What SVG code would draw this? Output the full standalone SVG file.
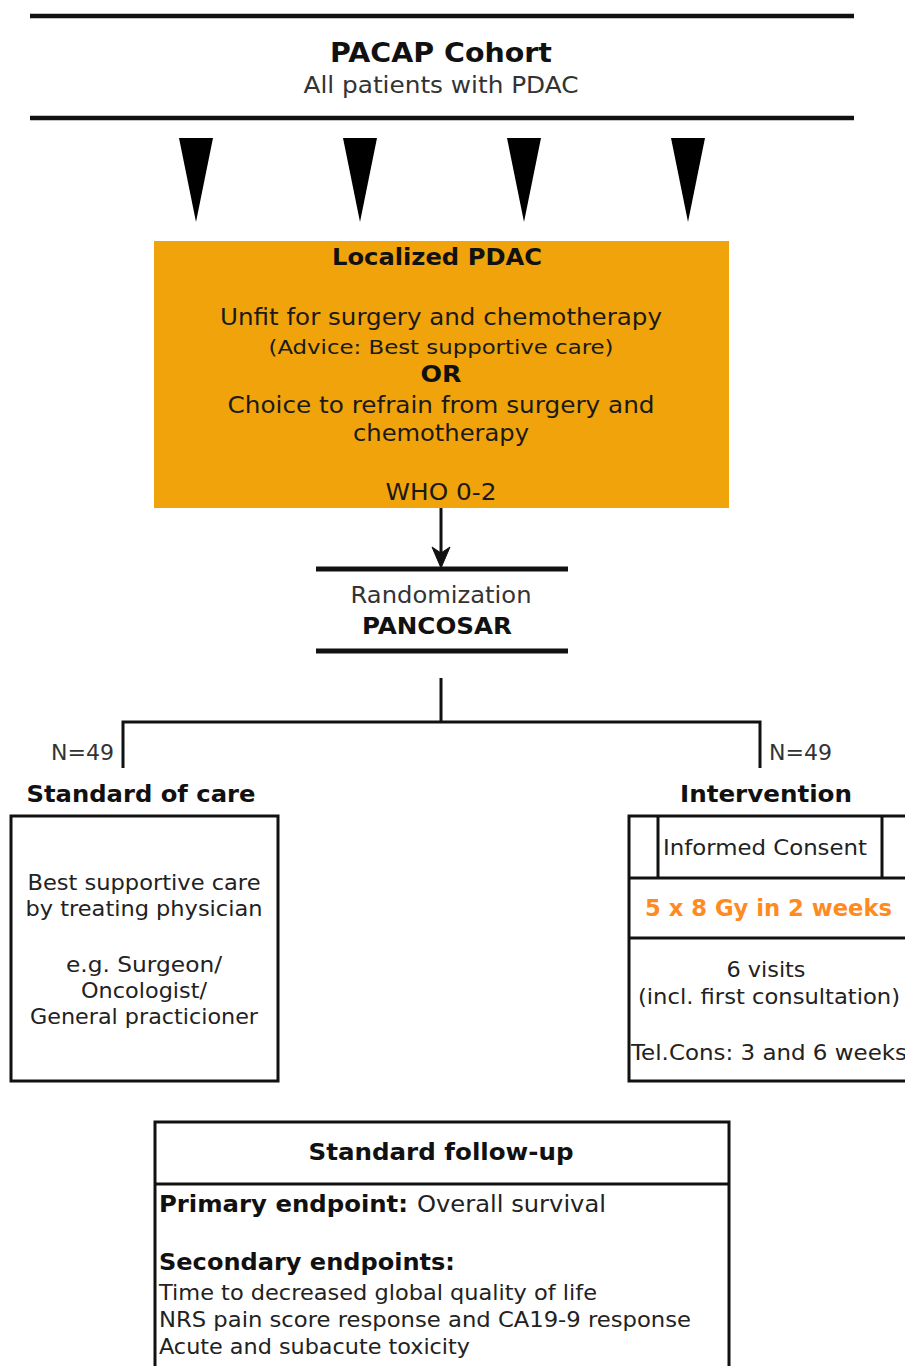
<svg xmlns="http://www.w3.org/2000/svg" width="905" height="1366" viewBox="0 0 905 1366">
<defs>
<style>
text{font-family:"DejaVu Sans","Liberation Sans",sans-serif;fill:#222;}
.b{font-weight:bold;fill:#111;}
.c{text-anchor:middle;}
.box{fill:#fff;stroke:#111;stroke-width:3;}
.ln{stroke:#111;stroke-width:3;fill:none;}
.thick{stroke:#111;stroke-width:4.5;fill:none;}
.s23{font-size:23px;}
.s22{font-size:22px;}
.s21{font-size:21px;}
.s19{font-size:19.5px;}
</style>
</defs>
<rect width="905" height="1366" fill="#fff"/>

<g id="cohort">
<line class="thick" x1="30" y1="16" x2="854" y2="16"/>
<line class="thick" x1="30" y1="118" x2="854" y2="118"/>
<text class="b c" x="441" y="62" font-size="26.5" textLength="222" lengthAdjust="spacingAndGlyphs">PACAP Cohort</text>
<text class="c s23" x="441" y="93" textLength="275" lengthAdjust="spacingAndGlyphs" style="fill:#333">All patients with PDAC</text>
</g>

<g id="wedges">
<polygon points="179,138 213,138 196,222" fill="#000"/>
<polygon points="343,138 377,138 360,222" fill="#000"/>
<polygon points="507,138 541,138 524,222" fill="#000"/>
<polygon points="671,138 705,138 688,222" fill="#000"/>
</g>

<g id="localized">
<rect x="154" y="241" width="575" height="267" fill="#F0A30A"/>
<text class="b c s23" x="437" y="265" textLength="210" lengthAdjust="spacingAndGlyphs">Localized PDAC</text>
<text class="c s23" x="441" y="325" textLength="442" lengthAdjust="spacingAndGlyphs" style="fill:#1a1a1a">Unfit for surgery and chemotherapy</text>
<text class="c s19" x="441" y="354" textLength="345" lengthAdjust="spacingAndGlyphs" style="fill:#1a1a1a">(Advice: Best supportive care)</text>
<text class="b c s23" x="441" y="382" textLength="41" lengthAdjust="spacingAndGlyphs">OR</text>
<text class="c s23" x="441" y="413" textLength="427" lengthAdjust="spacingAndGlyphs" style="fill:#1a1a1a">Choice to refrain from surgery and</text>
<text class="c s23" x="441" y="441" textLength="176" lengthAdjust="spacingAndGlyphs" style="fill:#1a1a1a">chemotherapy</text>
<text class="c s23" x="441" y="500" textLength="111" lengthAdjust="spacingAndGlyphs" style="fill:#1a1a1a">WHO 0-2</text>
</g>

<g id="randomization">
<line x1="316" y1="569" x2="568" y2="569" stroke="#111" stroke-width="5"/>
<line x1="316" y1="651" x2="568" y2="651" stroke="#111" stroke-width="5"/>
<text class="c s23" x="441" y="603" textLength="181" lengthAdjust="spacingAndGlyphs" style="fill:#333">Randomization</text>
<text class="b c s23" x="437" y="634" textLength="150" lengthAdjust="spacingAndGlyphs">PANCOSAR</text>
</g>

<g id="connectors">
<line class="ln" x1="441" y1="508" x2="441" y2="555"/>
<path d="M441,568 L432,547 L441,553 L450,547 Z" fill="#111" stroke="#111" stroke-width="1"/>
<line class="ln" x1="441" y1="678" x2="441" y2="722"/>
<polyline class="ln" points="123,768 123,722 760,722 760,768"/>
</g>

<g id="standard-care">
<text class="s21" x="114" y="760" text-anchor="end" textLength="63" lengthAdjust="spacingAndGlyphs" style="fill:#333">N=49</text>
<text class="b c s23" x="141" y="802" textLength="229" lengthAdjust="spacingAndGlyphs">Standard of care</text>
<rect class="box" x="11" y="816" width="267" height="265"/>
<text class="c s21" x="144" y="890" textLength="233" lengthAdjust="spacingAndGlyphs">Best supportive care</text>
<text class="c s21" x="144" y="916" textLength="237" lengthAdjust="spacingAndGlyphs">by treating physician</text>
<text class="c s21" x="144" y="972" textLength="156" lengthAdjust="spacingAndGlyphs">e.g. Surgeon/</text>
<text class="c s21" x="144" y="998" textLength="126" lengthAdjust="spacingAndGlyphs">Oncologist/</text>
<text class="c s21" x="144" y="1024" textLength="228" lengthAdjust="spacingAndGlyphs">General practicioner</text>
</g>

<g id="intervention">
<text class="s21" x="769" y="760" textLength="63" lengthAdjust="spacingAndGlyphs" style="fill:#333">N=49</text>
<text class="b c s23" x="766" y="802" textLength="172" lengthAdjust="spacingAndGlyphs">Intervention</text>
<rect class="box" x="629" y="816" width="282" height="265"/>
<line class="ln" x1="629" y1="878" x2="911" y2="878"/>
<line class="ln" x1="629" y1="938" x2="911" y2="938"/>
<line class="ln" x1="658" y1="816" x2="658" y2="878"/>
<line class="ln" x1="882" y1="816" x2="882" y2="878"/>
<text class="c s21" x="765" y="855" textLength="204" lengthAdjust="spacingAndGlyphs">Informed Consent</text>
<text class="b s23" x="645" y="916" textLength="247" lengthAdjust="spacingAndGlyphs" style="fill:#FF8A1F">5 x 8 Gy in 2 weeks</text>
<text class="c s21" x="766" y="977" textLength="79" lengthAdjust="spacingAndGlyphs">6 visits</text>
<text class="c s21" x="769" y="1004" textLength="262" lengthAdjust="spacingAndGlyphs">(incl. first consultation)</text>
<text class="s21" x="631" y="1060" textLength="276" lengthAdjust="spacingAndGlyphs">Tel.Cons: 3 and 6 weeks</text>
</g>

<g id="follow-up">
<rect class="box" x="155" y="1122" width="574" height="260"/>
<line class="ln" x1="155" y1="1184" x2="729" y2="1184"/>
<text class="b c s23" x="441" y="1160" textLength="265" lengthAdjust="spacingAndGlyphs">Standard follow-up</text>
<text class="b s23" x="159" y="1212" textLength="249" lengthAdjust="spacingAndGlyphs">Primary endpoint:</text>
<text class="s23" x="417" y="1212" textLength="189" lengthAdjust="spacingAndGlyphs">Overall survival</text>
<text class="b s23" x="159" y="1270" textLength="296" lengthAdjust="spacingAndGlyphs">Secondary endpoints:</text>
<text class="s21" x="159" y="1300" textLength="438" lengthAdjust="spacingAndGlyphs">Time to decreased global quality of life</text>
<text class="s21" x="159" y="1327" textLength="532" lengthAdjust="spacingAndGlyphs">NRS pain score response and CA19-9 response</text>
<text class="s21" x="159" y="1354" textLength="311" lengthAdjust="spacingAndGlyphs">Acute and subacute toxicity</text>
</g>
</svg>
